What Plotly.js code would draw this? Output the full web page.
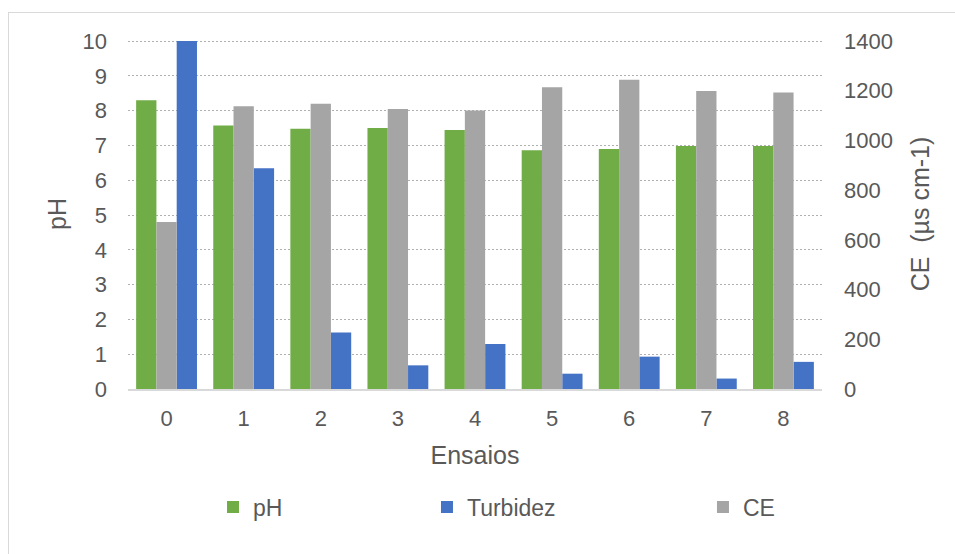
<!DOCTYPE html>
<html>
<head>
<meta charset="utf-8">
<script src="https://cdn.plot.ly/plotly-3.0.1.min.js"></script>
<style>
  html, body { margin: 0; padding: 0; background: #ffffff; }
  #wrap { position: relative; width: 955px; height: 554px; overflow: hidden; }
  #frame { position: absolute; left: 8px; top: 12px; width: 980px; height: 600px;
           border: 1.5px solid #d9d9d9; box-sizing: border-box; }
  #chart { position: absolute; left: 0; top: 0; width: 955px; height: 554px; }
</style>
</head>
<body>
<div id="wrap">
  <div id="frame"></div>
  <div id="chart"></div>
</div>
<script>
// Data
const ensaios = ['0', '1', '2', '3', '4', '5', '6', '7', '8'];
const pH = [8.30, 7.57, 7.48, 7.50, 7.44, 6.86, 6.90, 6.98, 6.98];
const turbidez = [10.0, 6.34, 1.62, 0.68, 1.29, 0.44, 0.93, 0.30, 0.78];
const ce = [672, 1138, 1148, 1126, 1120, 1214, 1244, 1199, 1193];
const leftTicks = [0, 1, 2, 3, 4, 5, 6, 7, 8, 9, 10];
const rightTicks = [0, 200, 400, 600, 800, 1000, 1200, 1400];

const txt = '#595959';
const fontFam = 'Liberation Sans, Arial, sans-serif';
const barW = 0.263;
// plot area is 2px taller than the 0..10 span so the top gridline is drawn
const headroom = 350 / 348;

const traces = [
  { type: 'bar', name: 'pH', x: ensaios, y: pH, yaxis: 'y',
    width: barW, offset: -1.5 * barW, marker: { color: '#70AD47' },
    legend: 'legend', hoverinfo: 'x+y' },
  { type: 'bar', name: 'CE', x: ensaios, y: ce, yaxis: 'y2',
    width: barW, offset: -0.5 * barW, marker: { color: '#A5A5A5' },
    legend: 'legend3', hoverinfo: 'x+y' },
  { type: 'bar', name: 'Turbidez', x: ensaios, y: turbidez, yaxis: 'y',
    width: barW, offset: 0.5 * barW, marker: { color: '#4472C4' },
    legend: 'legend2', hoverinfo: 'x+y' }
];

const legendBase = {
  orientation: 'h', yanchor: 'middle', xanchor: 'left', y: -0.337,
  font: { family: fontFam, size: 23, color: txt }, bgcolor: 'rgba(0,0,0,0)',
  itemwidth: 30, tracegroupgap: 0
};

const layout = {
  width: 955, height: 554,
  margin: { l: 128, r: 133, t: 39, b: 165, pad: 0 },
  paper_bgcolor: 'rgba(0,0,0,0)', plot_bgcolor: 'rgba(0,0,0,0)',
  font: { family: fontFam, color: txt },
  barmode: 'overlay',
  showlegend: true,
  xaxis: {
    type: 'category', range: [-0.5, 8.5],
    showgrid: false, zeroline: false,
    showline: true, linecolor: '#d9d9d9', linewidth: 2,
    ticks: '', ticklabelstandoff: 9,
    tickfont: { size: 22, color: txt },
    title: { text: 'Ensaios', font: { size: 25, color: txt }, standoff: 16 }
  },
  yaxis: {
    range: [0, 10 * headroom], tickvals: leftTicks, ticktext: leftTicks.map(String),
    showgrid: true, gridcolor: '#b0b0b0', gridwidth: 1, griddash: '2px,2px',
    zeroline: false, showline: false, ticks: '', ticklabelstandoff: 20,
    tickfont: { size: 22, color: txt },
    title: { text: 'pH', font: { size: 25, color: txt }, standoff: 8 }
  },
  yaxis2: {
    overlaying: 'y', side: 'right',
    range: [0, 1400 * headroom], tickvals: rightTicks, ticktext: rightTicks.map(String),
    showgrid: false, zeroline: false, showline: false, ticks: '', ticklabelstandoff: 21,
    tickfont: { size: 22, color: txt },
    title: { text: 'CE  (µs cm-1)', font: { size: 25, color: txt }, standoff: 19 }
  },
  legend: Object.assign({}, legendBase, { x: 0.1225 }),
  legend2: Object.assign({}, legendBase, { x: 0.4308 }),
  legend3: Object.assign({}, legendBase, { x: 0.8285 })
};

Plotly.newPlot('chart', traces, layout, { displayModeBar: false, staticPlot: true });
</script>
</body>
</html>
